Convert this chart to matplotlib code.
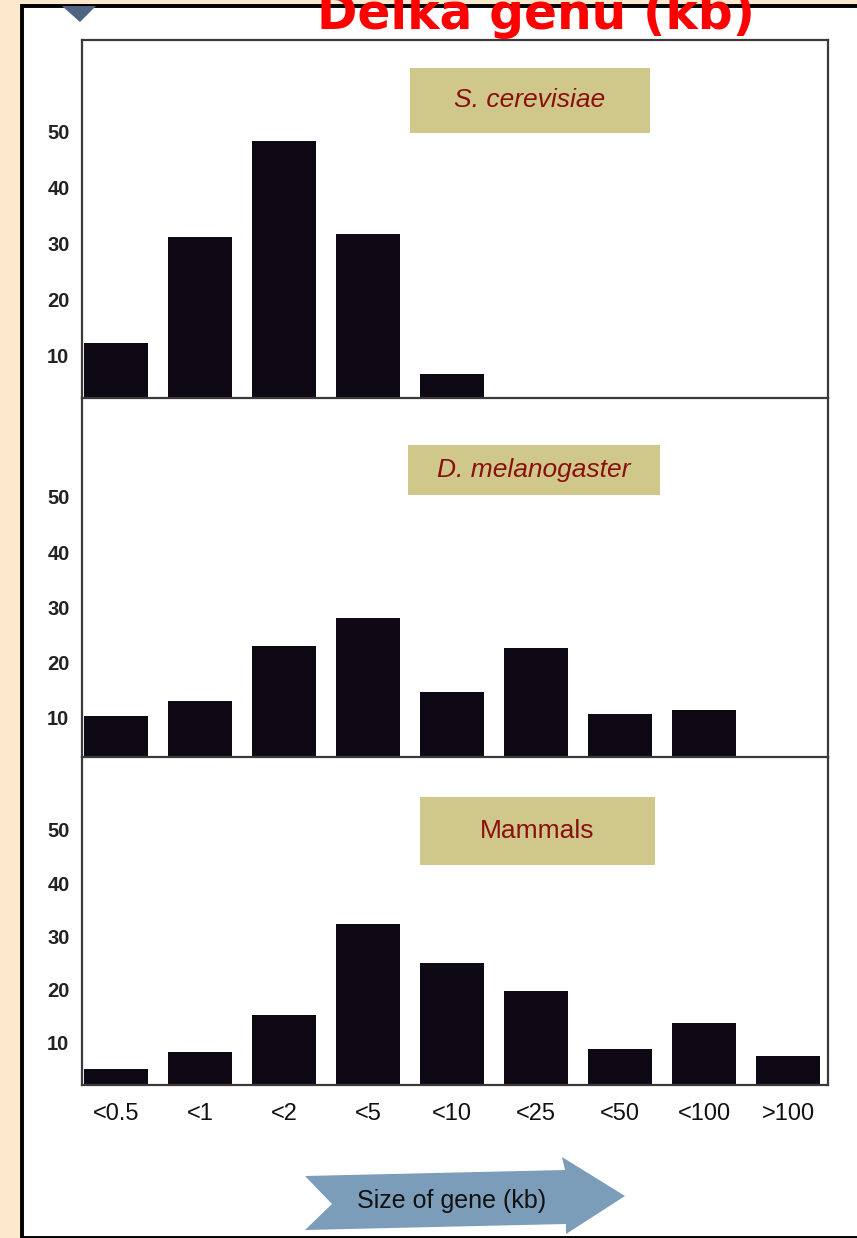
import matplotlib
matplotlib.use("Agg")
import matplotlib.pyplot as plt
from matplotlib.patches import Rectangle, Polygon

# --- data (percent of genes in each size class) ---
size_classes = ["<0.5", "<1", "<2", "<5", "<10", "<25", "<50", "<100", ">100"]
yeast = [12.2, 31.2, 48.4, 31.7, 6.6]
fly = [10.4, 13.1, 23.1, 28.1, 14.7, 22.7, 10.7, 11.4]
mammals = [5.1, 8.3, 15.3, 32.3, 25.1, 19.8, 8.9, 13.8, 7.5]
species = ["S. cerevisiae", "D. melanogaster", "Mammals"]
y_ticks = [10, 20, 30, 40, 50]

W, H = 857, 1238
fx = lambda px: px / W
fy = lambda py: 1 - py / H

narrow = ["Liberation Sans Narrow", "Liberation Sans", "DejaVu Sans"]
bar_color = "#0f0915"
spine_color = "#3a3a3a"

fig = plt.figure(figsize=(W / 100, H / 100), dpi=100, facecolor="#fce8cc")

# white page with black frame
fig.patches.append(Rectangle((fx(22), 0), fx(857) - fx(22) + 0.01, fy(6),
                             transform=fig.transFigure, facecolor="white",
                             edgecolor="black", linewidth=2.8, zorder=-5))
# small dark marker at the top-left of the scan
fig.patches.append(Polygon([(fx(62), fy(6)), (fx(96), fy(6)), (fx(80), fy(22))],
                           closed=True, transform=fig.transFigure,
                           facecolor="#4d6482", edgecolor="none", zorder=-4))

# --- panels: (top px, bottom px, ylim, data, label box) ---
panels = [
    (40, 398, (2.29, 66.5), yeast, (530, 100, 240, 65), "italic"),
    (398, 757, (2.94, 67.9), fly, (534, 470, 252, 50), "italic"),
    (757, 1085, (2.1, 63.7), mammals, (537, 831, 235, 68), "normal"),
]

for i, (top, bottom, ylim, vals, box, style) in enumerate(panels):
    ax = fig.add_axes([fx(82), fy(bottom), fx(828) - fx(82), (bottom - top) / H])
    ax.set_zorder(1)
    ax.patch.set_alpha(0)
    ax.bar(range(len(vals)), vals, width=0.76, color=bar_color, zorder=2)
    ax.set_xlim(-0.405, 8.476)
    ax.set_ylim(*ylim)
    ax.set_yticks(y_ticks)
    ax.set_yticklabels([str(t) for t in y_ticks], fontweight="bold",
                       fontsize=14.5, color="#222222", family=narrow)
    ax.tick_params(axis="y", length=0, pad=9)
    for side in ["left", "right", "bottom", "top"]:
        ax.spines[side].set_color(spine_color)
        ax.spines[side].set_linewidth(1.6)
    if i > 0:
        ax.spines["top"].set_visible(False)
    if i == 2:
        ax.set_xticks(range(len(size_classes)))
        ax.set_xticklabels(size_classes, fontsize=17, color="#111111", family=narrow)
        ax.tick_params(axis="x", length=0, pad=13)
    else:
        ax.set_xticks([])

    # species label box
    cx, cy, bw, bh = box
    fig.patches.append(Rectangle((fx(cx - bw / 2), fy(cy + bh / 2)), bw / W, bh / H,
                                 transform=fig.transFigure, facecolor="#d0c78a",
                                 edgecolor="none", zorder=3))
    fig.text(fx(cx), fy(cy), species[i], ha="center", va="center",
             fontsize=19, style=style, color="#8a1010", family=narrow, zorder=4)

# --- "Size of gene (kb)" arrow ---
arrow_px = [(305, 1176), (565, 1170), (562, 1157), (625, 1196), (566, 1234),
            (566, 1224), (305, 1230), (332, 1204)]
fig.patches.append(Polygon([(fx(x), fy(y)) for x, y in arrow_px], closed=True,
                           transform=fig.transFigure, facecolor="#7c9dba",
                           edgecolor="none", zorder=3))
fig.text(fx(452), fy(1201), "Size of gene (kb)", ha="center", va="center",
         fontsize=18, color="#111111", family=narrow, zorder=4)

# title in red, partly cut by the top edge as in the scan
fig.text(fx(536), fy(29), "Délka genů (kb)", ha="center", va="baseline",
         fontsize=35, fontweight="bold", color="#ff0000", zorder=5)

fig.savefig("out.png", dpi=100, facecolor=fig.get_facecolor())
